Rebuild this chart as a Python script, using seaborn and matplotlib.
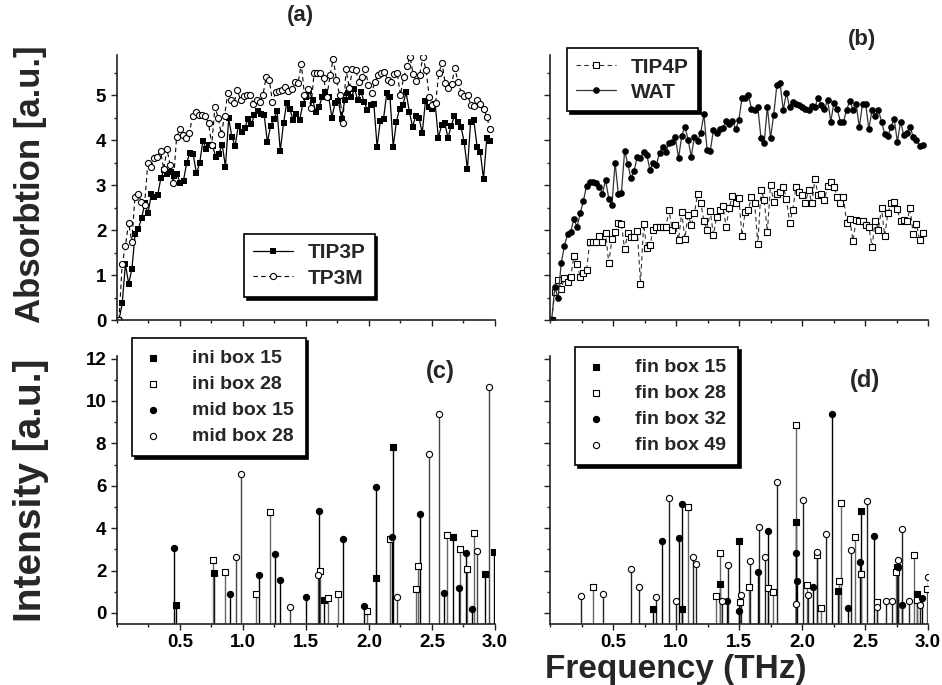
import matplotlib

matplotlib.use("Agg")
import matplotlib.pyplot as plt
import numpy as np
import seaborn as sns
from matplotlib.ticker import MultipleLocator

# ---- panel (a): absorption spectra, TIP3P / TP3M ----
tip3p = [0.0, 0.37, 1.24, 0.81, 1.13, 1.91, 2.03, 2.26, 2.59, 2.37, 2.79, 2.74, 2.78, 3.16, 3.33,
         3.24, 3.30, 3.20, 3.24, 3.04, 3.10, 3.50, 3.72, 3.69, 3.26, 3.48, 3.98, 3.81, 3.89, 3.87,
         3.63, 3.70, 3.90, 3.40, 4.48, 4.07, 3.87, 4.32, 4.17, 4.27, 4.47, 4.35, 4.56, 4.65, 4.57,
         4.56, 3.95, 4.32, 4.46, 4.65, 3.76, 4.37, 4.83, 4.68, 4.44, 4.58, 4.44, 4.81, 4.96, 5.09,
         4.90, 4.63, 4.73, 4.96, 5.06, 4.96, 4.50, 4.83, 4.87, 4.47, 4.89, 5.05, 4.96, 5.13, 4.90,
         5.07, 4.85, 4.67, 4.78, 4.81, 3.85, 4.43, 4.47, 5.04, 4.96, 3.85, 4.41, 4.70, 4.78, 5.06,
         4.63, 4.30, 4.53, 4.50, 4.15, 4.87, 4.73, 4.70, 4.81, 4.05, 4.33, 4.37, 4.05, 4.32, 4.54,
         4.41, 4.30, 3.96, 3.35, 4.40, 4.44, 3.85, 3.73, 3.13, 4.04, 3.98]
tp3m = [0.0, 1.24, 1.64, 2.16, 1.74, 2.74, 2.81, 2.63, 2.56, 3.48, 3.41, 3.59, 3.63, 3.76, 3.35,
        3.80, 3.44, 3.04, 4.06, 4.24, 4.11, 4.04, 4.15, 4.54, 4.63, 4.56, 4.56, 4.53, 4.37, 3.89,
        4.74, 4.50, 4.13, 4.53, 5.04, 4.89, 4.83, 5.11, 4.89, 4.98, 4.99, 4.99, 4.80, 4.90, 4.85,
        5.00, 5.39, 5.33, 4.85, 5.07, 5.09, 5.11, 5.17, 5.09, 5.13, 5.30, 5.26, 5.70, 4.99, 5.13,
        4.72, 5.48, 5.48, 5.48, 5.37, 4.96, 5.44, 5.81, 5.33, 5.00, 4.37, 5.57, 5.15, 5.57, 5.56,
        5.30, 5.41, 5.57, 5.22, 5.04, 5.30, 5.44, 5.48, 5.52, 5.33, 5.30, 5.47, 5.48, 5.00, 5.39,
        5.64, 5.85, 5.46, 5.31, 5.44, 5.84, 5.56, 4.96, 4.78, 4.83, 5.48, 5.72, 5.26, 5.15, 5.24,
        5.59, 5.30, 5.05, 4.98, 5.00, 4.78, 4.76, 4.89, 4.80, 4.69, 4.52, 4.24]

# ---- panel (b): TIP4P / WAT ----
tip4p = [0.0, 0.63, 0.90, 0.70, 0.93, 0.85, 0.95, 1.42, 1.24, 0.96, 1.04, 1.11, 1.74, 1.74, 1.74,
         1.87, 1.74, 1.93, 1.27, 1.79, 1.96, 2.16, 2.13, 1.57, 1.93, 1.85, 1.84, 1.98, 0.81, 2.13,
         1.59, 1.67, 2.01, 2.07, 2.06, 2.06, 2.06, 2.44, 2.01, 2.11, 1.78, 2.39, 1.81, 2.33, 2.11,
         2.37, 2.81, 2.61, 2.19, 2.00, 2.42, 1.89, 2.30, 2.44, 2.53, 2.07, 2.50, 2.76, 2.61, 2.72,
         1.87, 2.41, 2.44, 2.74, 2.61, 1.69, 2.90, 2.67, 1.96, 3.00, 2.63, 2.81, 2.85, 2.96, 2.70,
         2.16, 2.44, 2.95, 2.85, 2.78, 2.59, 2.90, 2.59, 3.13, 2.78, 2.80, 2.67, 2.98, 3.07, 2.96,
         2.74, 2.59, 2.74, 2.16, 2.24, 1.76, 2.22, 2.19, 2.19, 2.11, 2.07, 1.63, 2.21, 2.01, 2.48,
         1.87, 2.37, 2.59, 2.63, 2.46, 2.19, 2.22, 2.19, 2.48, 1.91, 2.13, 1.78, 1.93]
wat = [0.0, 0.74, 0.48, 1.26, 1.64, 1.91, 1.96, 2.24, 2.07, 2.37, 2.65, 2.98, 3.07, 3.07, 3.04,
       2.96, 2.81, 3.11, 2.70, 2.56, 3.50, 2.81, 2.83, 3.76, 3.47, 3.15, 3.32, 3.63, 3.61, 3.74,
       3.67, 3.33, 3.50, 3.44, 3.72, 3.85, 3.74, 3.93, 3.96, 4.07, 3.59, 4.09, 4.30, 4.01, 3.63,
       4.07, 3.98, 4.16, 4.57, 3.78, 3.76, 4.22, 4.15, 4.24, 4.26, 4.43, 4.35, 4.43, 4.24, 4.44,
       4.93, 4.93, 5.00, 4.70, 4.67, 4.73, 4.04, 3.93, 4.74, 4.04, 4.56, 5.22, 5.27, 4.67, 5.04,
       4.74, 4.85, 4.81, 4.78, 4.74, 4.70, 4.67, 4.76, 4.74, 4.93, 4.78, 4.68, 4.89, 4.41, 4.83,
       4.70, 4.41, 4.41, 4.67, 4.87, 4.67, 4.80, 4.28, 4.81, 4.80, 4.24, 4.67, 4.53, 4.67, 4.41,
       4.13, 4.09, 4.30, 4.46, 3.96, 4.41, 4.11, 4.16, 4.30, 4.06, 4.01, 3.87, 3.89]

# ---- panel (c): mode intensities ----
ini15_f = [0.472, 0.773, 1.644, 2.058, 2.190, 2.665, 2.919, 2.990]
ini15_i = [0.38, 1.87, 0.61, 1.64, 7.85, 3.60, 1.84, 2.86]
ini28_f = [0.765, 0.858, 1.108, 1.216, 1.609, 1.675, 1.755, 1.987, 2.164, 2.375, 2.388, 2.618,
           2.726, 2.776, 2.837]
ini28_i = [2.50, 1.92, 0.90, 4.76, 2.00, 0.69, 0.90, 0.11, 3.50, 1.12, 2.23, 3.68, 3.02, 2.09, 3.79]
mid15_f = [0.456, 0.897, 1.132, 1.256, 1.298, 1.499, 1.604, 1.794, 1.963, 2.058, 2.187, 2.404,
           2.599, 2.718, 2.766, 2.816]
mid15_i = [3.08, 0.88, 1.79, 2.78, 1.56, 0.74, 4.80, 3.50, 0.31, 5.96, 3.60, 4.65, 0.96, 1.18,
           2.82, 0.19]
mid28_f = [0.945, 0.989, 1.377, 1.594, 2.222, 2.480, 2.559, 2.855, 2.956]
mid28_i = [2.63, 6.56, 0.30, 1.78, 0.74, 7.48, 9.37, 2.94, 10.66]

# ---- panel (d) ----
fin15_f = [0.820, 1.045, 1.349, 1.503, 1.950, 2.283, 2.468, 2.751, 2.910]
fin15_i = [0.17, 0.17, 1.35, 3.41, 4.28, 1.04, 4.83, 2.19, 0.90]
fin28_f = [0.344, 1.093, 1.317, 1.349, 1.508, 1.582, 1.733, 1.772, 1.950, 2.037, 2.116, 2.151,
           2.296, 2.310, 2.421, 2.466, 2.593, 2.746, 2.889, 2.910, 2.995]
fin28_i = [1.24, 5.02, 0.80, 2.85, 0.53, 1.24, 1.19, 0.97, 8.87, 1.32, 2.74, 0.25, 1.51, 5.17,
           3.57, 1.82, 0.53, 1.95, 2.74, 0.61, 1.13]
fin32_f = [0.886, 1.024, 1.045, 1.407, 1.500, 1.653, 1.730, 1.955, 1.958, 2.090, 2.235, 2.368,
           2.460, 2.571, 2.759, 2.796, 2.950]
fin32_i = [3.40, 3.52, 5.16, 0.57, 0.09, 1.95, 3.88, 2.85, 1.51, 1.23, 9.39, 0.22, 2.42, 3.63,
           2.19, 0.38, 0.72]
fin49_f = [0.243, 0.418, 0.643, 0.706, 0.839, 0.947, 0.997, 1.132, 1.159, 1.368, 1.415, 1.516,
           1.587, 1.656, 1.706, 1.799, 1.950, 2.011, 2.050, 2.122, 2.188, 2.386, 2.519, 2.598,
           2.664, 2.717, 2.765, 2.791, 2.849, 2.937, 2.997]
fin49_i = [0.80, 0.90, 2.08, 1.21, 0.74, 5.42, 0.57, 2.66, 2.33, 0.57, 2.28, 0.85, 2.44, 4.04,
           2.66, 6.19, 0.41, 5.33, 0.85, 2.86, 3.71, 2.97, 5.28, 0.30, 0.57, 0.57, 2.50, 3.95,
           0.57, 0.38, 1.71]

freq_ticks = [0.5, 1.0, 1.5, 2.0, 2.5, 3.0]
FONT = ["Liberation Sans", "DejaVu Sans"]

sns.set_theme(style="ticks")
plt.rcParams["font.family"] = FONT
plt.rcParams["font.weight"] = "bold"
plt.rcParams["axes.linewidth"] = 1.2
plt.rcParams["axes.edgecolor"] = "#222222"


def grid(values, start, stop):
    return np.linspace(start, stop, len(values))


def style_axis(ax, ylim, ymaj, ymin, xlabels, ylabels):
    ax.set_xlim(0, 3.0)
    ax.set_ylim(*ylim)
    ax.set_xticks(freq_ticks)
    ax.xaxis.set_minor_locator(MultipleLocator(0.25))
    ax.yaxis.set_major_locator(MultipleLocator(ymaj))
    ax.yaxis.set_minor_locator(MultipleLocator(ymin))
    ax.tick_params(which="major", direction="out", length=4, width=1, labelsize=13.5,
                   colors="#222222", labelcolor="black")
    ax.tick_params(which="minor", direction="out", length=2.5, width=1, colors="#222222")
    if not xlabels:
        ax.tick_params(axis="x", labelbottom=False)
    if not ylabels:
        ax.tick_params(axis="y", labelleft=False)
    for lab in ax.get_xticklabels() + ax.get_yticklabels():
        lab.set_fontweight("bold")
    ax.set_xlabel("")
    ax.set_ylabel("")
    sns.despine(ax=ax)


def legend(ax, anchor, size, **kw):
    leg = ax.legend(loc="upper left", bbox_to_anchor=anchor, borderaxespad=0, fancybox=False,
                    shadow={"color": "black", "alpha": 1.0}, edgecolor="black",
                    prop={"family": FONT, "weight": "bold", "size": size}, **kw)
    leg.get_frame().set_linewidth(1.2)
    leg.get_frame().set_alpha(1.0)
    return leg


def stems(ax, f, i, base, marker, face, stem_color, label, s=20):
    ax.vlines(f, base, i, color=stem_color, linewidth=1.0, zorder=2)
    sns.scatterplot(x=f, y=i, marker=marker, color=face, edgecolor="black", linewidth=0.8,
                    s=s, ax=ax, label=label, zorder=3)


fig = plt.figure(figsize=(9.42, 6.85), dpi=100)
ax_a = fig.add_axes([0.1239, 0.5328, 0.4016, 0.3876])
ax_b = fig.add_axes([0.5839, 0.5328, 0.4013, 0.3876])
ax_c = fig.add_axes([0.1239, 0.0891, 0.4016, 0.3905])
ax_d = fig.add_axes([0.5839, 0.0891, 0.4013, 0.3905])

# (a)
sns.lineplot(x=grid(tip3p, 0.018, 2.96), y=tip3p, ax=ax_a, color="black", linewidth=0.9,
             marker="s", markersize=4.4, markeredgewidth=0, sort=False, label="TIP3P")
sns.lineplot(x=grid(tp3m, 0.018, 2.96), y=tp3m, ax=ax_a, color="black", linewidth=0.8,
             linestyle=(0, (4, 3)), marker="o", markersize=4.4, markerfacecolor="white",
             markeredgecolor="black", markeredgewidth=0.8, sort=False, label="TP3M")
style_axis(ax_a, (0, 5.9), 1, 0.5, False, True)
legend(ax_a, (0.336, 0.324), 15, handlelength=1.9, handletextpad=0.7, labelspacing=0.3,
       borderpad=0.45)

# (b)
sns.lineplot(x=grid(tip4p, 0.013, 2.958), y=tip4p, ax=ax_b, color="#333333", linewidth=0.8,
             linestyle=(0, (4, 3)), marker="s", markersize=4.0, markerfacecolor="white",
             markeredgecolor="black", markeredgewidth=0.8, sort=False, label="TIP4P")
sns.lineplot(x=grid(wat, 0.013, 2.958), y=wat, ax=ax_b, color="#333333", linewidth=0.9,
             marker="o", markersize=4.8, markerfacecolor="black", markeredgewidth=0,
             sort=False, label="WAT")
style_axis(ax_b, (0, 5.9), 1, 0.5, False, False)
legend(ax_b, (0.045, 1.024), 15, handlelength=1.9, handletextpad=0.7, labelspacing=0.3,
       borderpad=0.45)

# (c)
base = -0.52
stems(ax_c, ini15_f, ini15_i, base, "s", "black", "black", "ini box 15")
stems(ax_c, ini28_f, ini28_i, base, "s", "white", "#666666", "ini box 28")
stems(ax_c, mid15_f, mid15_i, base, "o", "black", "black", "mid box 15")
stems(ax_c, mid28_f, mid28_i, base, "o", "white", "#444444", "mid box 28")
style_axis(ax_c, (base, 12.1), 2, 1, True, True)
legend(ax_c, (0.04, 1.069), 14, handlelength=1.0, handletextpad=1.5, labelspacing=0.42,
       borderpad=0.6)

# (d)
stems(ax_d, fin15_f, fin15_i, base, "s", "black", "black", "fin box 15")
stems(ax_d, fin28_f, fin28_i, base, "s", "white", "#666666", "fin box 28")
stems(ax_d, fin32_f, fin32_i, base, "o", "black", "black", "fin box 32")
stems(ax_d, fin49_f, fin49_i, base, "o", "white", "#222222", "fin box 49")
style_axis(ax_d, (base, 12.1), 2, 1, True, False)
legend(ax_d, (0.066, 1.035), 14, handlelength=1.0, handletextpad=1.5, labelspacing=0.42,
       borderpad=0.6)

# panel tags and shared labels
fig.text(300 / 942, 1 - 15 / 685, "(a)", ha="center", va="center", fontsize=16, fontweight="bold")
fig.text(862 / 942, 1 - 40 / 685, "(b)", ha="center", va="center", fontsize=16, fontweight="bold")
fig.text(440 / 942, 1 - 371 / 685, "(c)", ha="center", va="center", fontsize=17, fontweight="bold")
fig.text(865 / 942, 1 - 380 / 685, "(d)", ha="center", va="center", fontsize=17, fontweight="bold")
fig.text(31 / 942, 1 - 184 / 685, "Absorbtion [a.u.]", rotation=90, ha="center", va="center",
         fontsize=25, fontweight="bold")
fig.text(31 / 942, 1 - 490 / 685, "Intensity [a.u.]", rotation=90, ha="center", va="center",
         fontsize=28, fontweight="bold")
fig.text(676 / 942, 1 - 678 / 685, "Frequency (THz)", ha="center", va="baseline", fontsize=24,
         fontweight="bold")

fig.savefig("out.png", dpi=100)
